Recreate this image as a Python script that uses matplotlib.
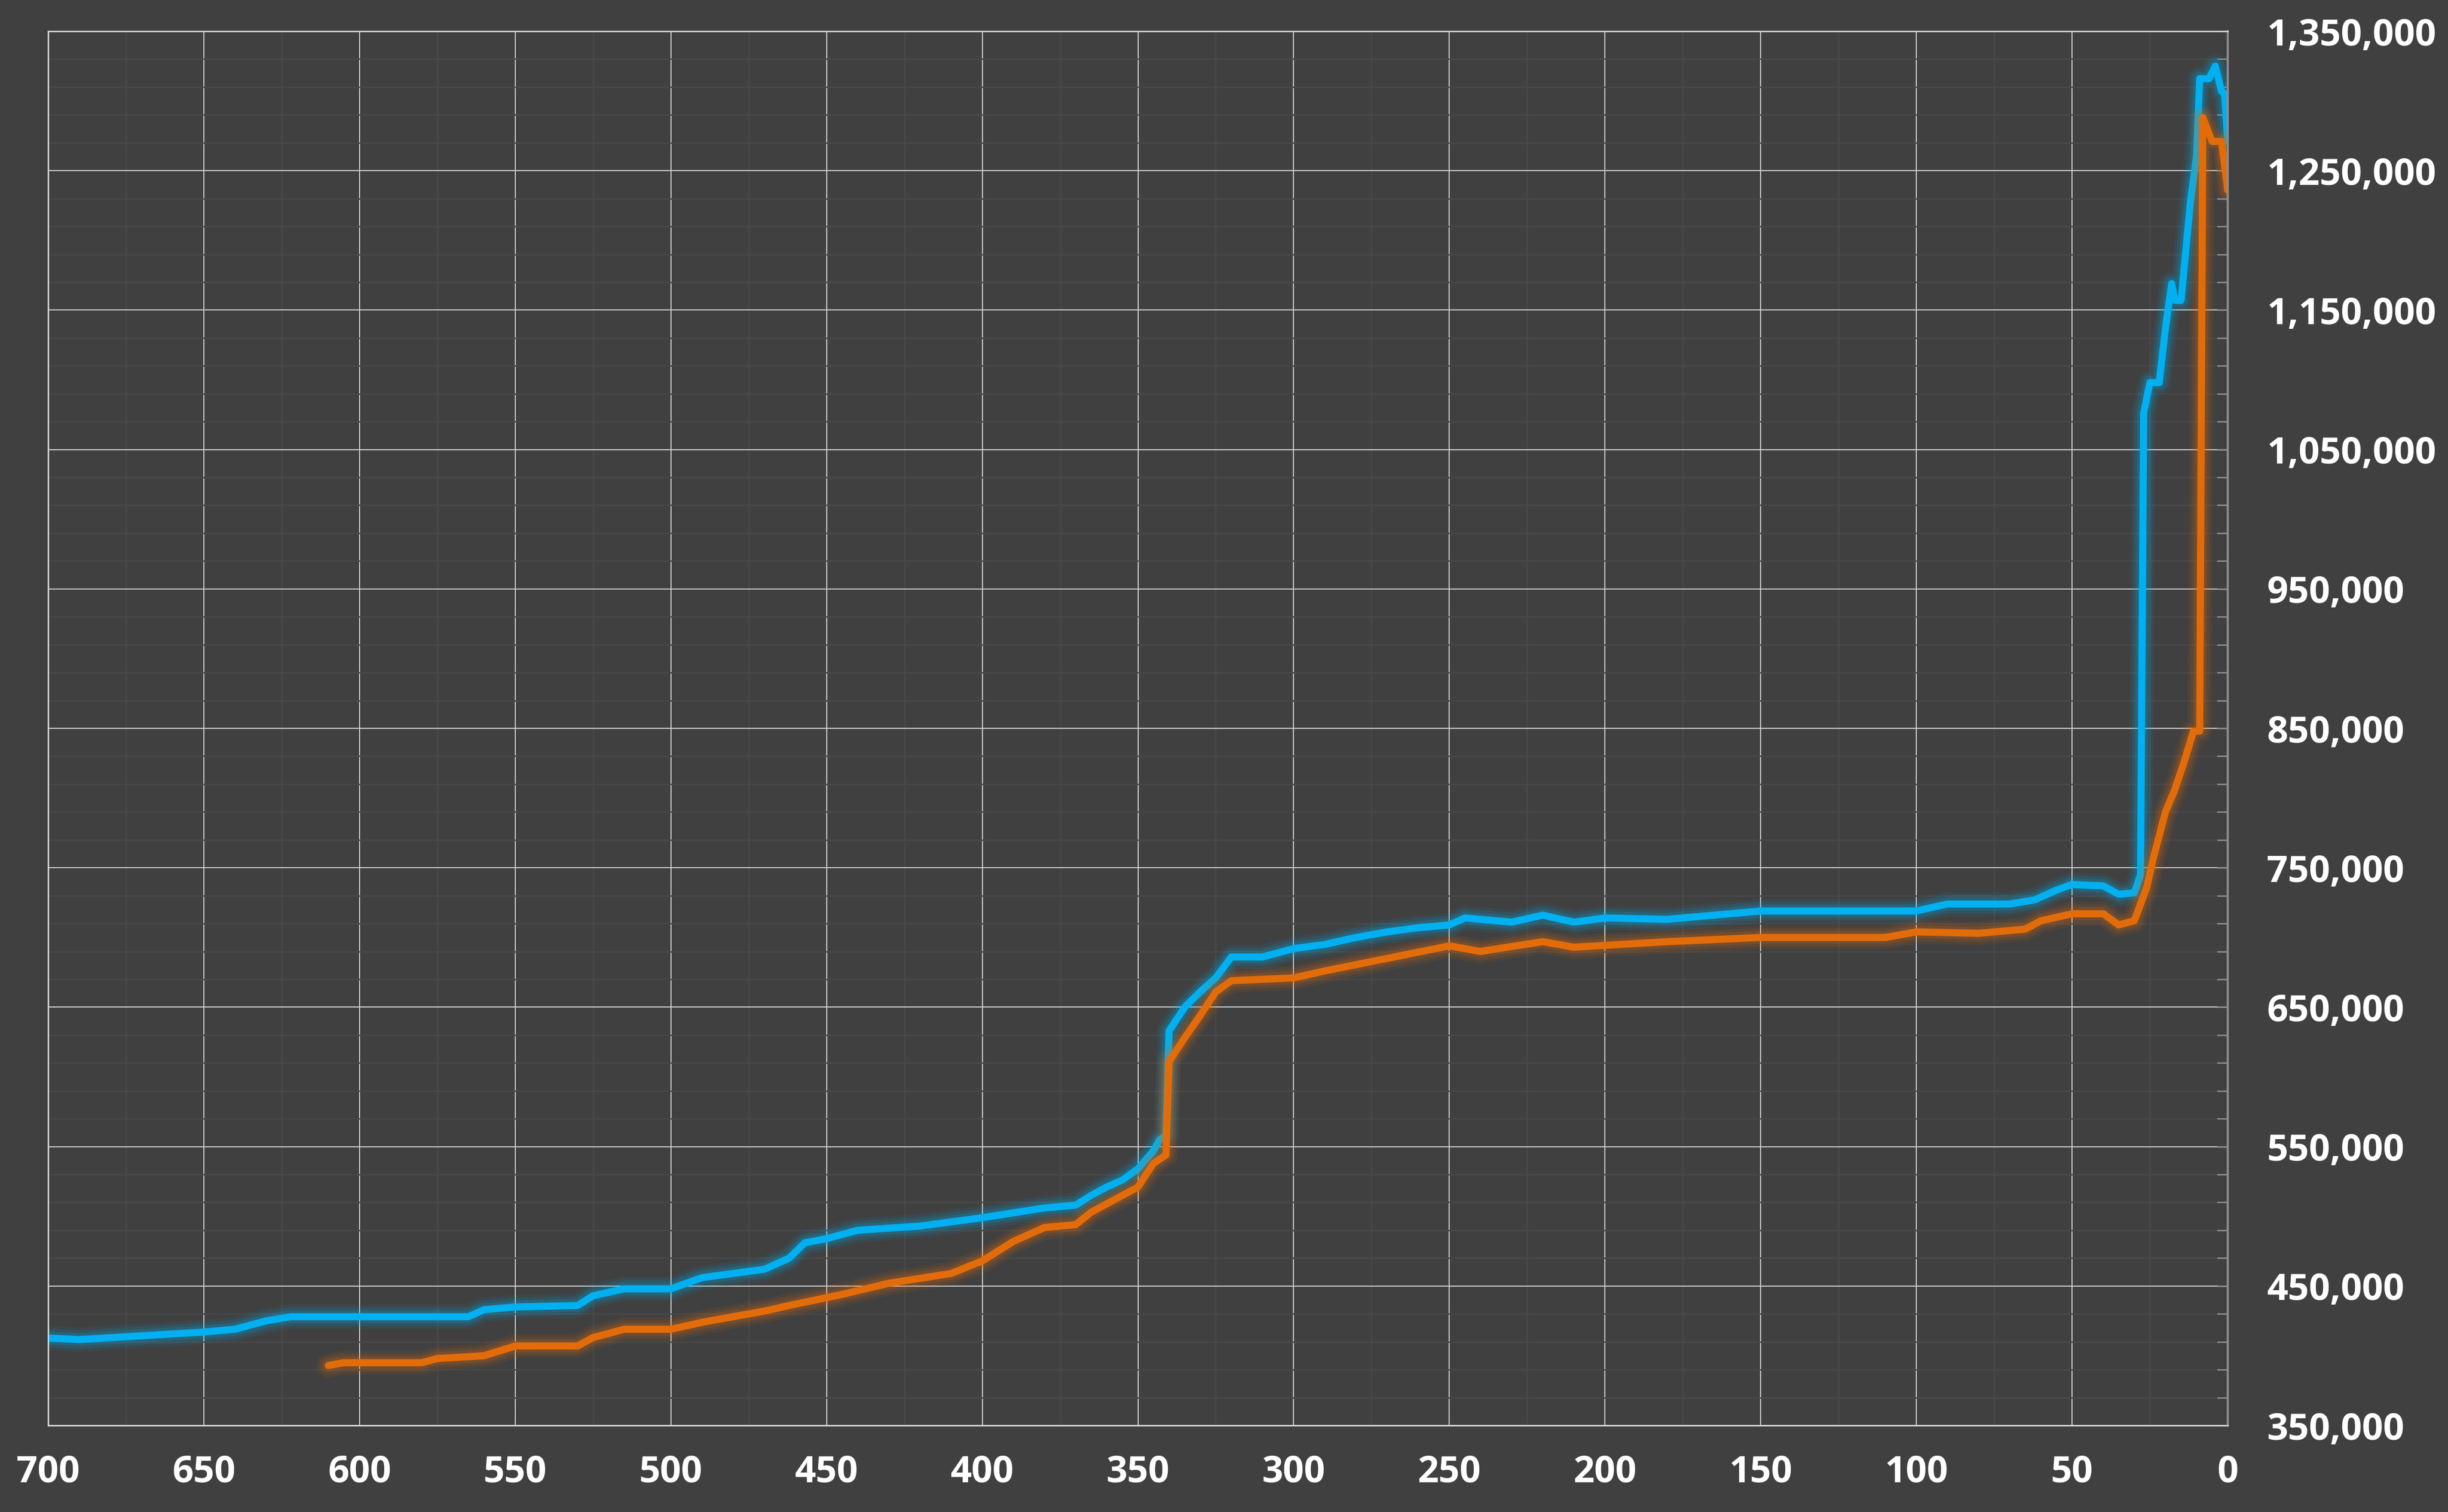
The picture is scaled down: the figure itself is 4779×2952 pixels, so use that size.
import matplotlib
matplotlib.use("Agg")
import matplotlib.pyplot as plt
from matplotlib.ticker import MultipleLocator, FuncFormatter

# values (x = units back, y = value)
blue_x = [700, 690, 650, 640, 630, 622, 600, 565, 560, 550, 530, 525, 515, 500, 490, 480, 470,
          462, 457, 450, 440, 420, 400, 380, 370, 365, 360, 355, 350, 345, 343, 341, 340, 335,
          330, 325, 320, 310, 300, 290, 280, 270, 260, 250, 245, 230, 220, 210, 200, 180, 160,
          150, 100, 90, 70, 62, 55, 50, 40, 35, 30, 28, 27, 25, 22, 20, 18, 17, 15, 12, 10, 9,
          6, 4, 2, 1, 0]
blue_y = [412700, 411600, 417000, 419000, 425000, 428000, 428000, 428000, 433000, 435000, 436000,
          443000, 448000, 448000, 456000, 459000, 462000, 470000, 481000, 484000, 490000, 493000,
          499000, 506000, 508000, 515000, 521000, 526000, 534000, 547000, 555000, 558000, 633000,
          650000, 661000, 671000, 686000, 686000, 692000, 695000, 700000, 704000, 707000, 709000,
          714000, 711000, 716000, 711000, 714000, 713000, 717000, 719000, 719000, 724000, 724000,
          727000, 734000, 738000, 737000, 731000, 732000, 745000, 1076000, 1098000, 1098000,
          1137000, 1169000, 1157000, 1157000, 1227000, 1261000, 1316000, 1316000, 1325000,
          1307000, 1305000, 1271000]

orange_x = [610, 605, 580, 575, 560, 550, 530, 525, 515, 500, 490, 470, 460, 445, 430, 410, 400,
            390, 380, 370, 365, 355, 350, 345, 341, 340, 335, 330, 325, 320, 300, 290, 270, 250,
            240, 220, 210, 180, 150, 110, 100, 80, 65, 60, 50, 40, 35, 30, 26, 24, 20, 17, 14,
            11, 9, 8, 5, 2, 0]
orange_y = [393000, 395000, 395000, 398000, 400000, 407000, 407000, 413000, 419000, 419000,
            424000, 432000, 437000, 444000, 452000, 459000, 468000, 482000, 492000, 494000,
            503000, 515000, 521000, 538000, 544000, 611000, 628000, 644000, 661000, 669000,
            671000, 676000, 685000, 694000, 690000, 697000, 693000, 697000, 700000, 700000,
            704000, 703000, 706000, 712000, 717000, 717000, 709000, 712000, 736000, 756000,
            790000, 806000, 826000, 848000, 848000, 1288000, 1271000, 1271000, 1236000]

bg = "#404040"
fig = plt.figure(figsize=(47.79, 29.52), dpi=100, facecolor=bg)
ax = fig.add_axes([94 / 4779, 1 - 2783 / 2952, (4349 - 94) / 4779, (2783 - 61) / 2952])
ax.set_facecolor(bg)

for xs, ys, c in [(blue_x, blue_y, "#00b0f0"), (orange_x, orange_y, "#e36c0a")]:
    # soft glow under each line
    for lw, a in [(34, 0.08), (26, 0.12), (18, 0.18)]:
        ax.plot(xs, ys, color=c, lw=lw, alpha=a, solid_capstyle="round", solid_joinstyle="round")
    ax.plot(xs, ys, color=c, lw=10, solid_capstyle="round", solid_joinstyle="round")

ax.set_xlim(700, 0)
ax.set_ylim(350000, 1350000)
ax.xaxis.set_major_locator(MultipleLocator(50))
ax.xaxis.set_minor_locator(MultipleLocator(25))
ax.set_yticks(range(350000, 1350001, 100000))
ax.set_yticks(range(350000, 1350001, 20000), minor=True)
ax.yaxis.set_major_formatter(FuncFormatter(lambda v, p: f"{int(v):,}"))

ax.grid(which="major", color="#cfcfcf", lw=1.5)
ax.grid(which="minor", color="#484848", lw=2)
ax.set_axisbelow(True)

ax.yaxis.tick_right()
for s in ["top", "left", "bottom"]:
    ax.spines[s].set_color("#d9d9d9")
    ax.spines[s].set_linewidth(2)
ax.spines["right"].set_color("#8c8c8c")
ax.spines["right"].set_linewidth(3)

ax.tick_params(axis="x", which="both", length=0, pad=40, labelsize=52, labelcolor="white")
ax.tick_params(axis="y", which="both", direction="in", color="#8c8c8c", width=2,
               length=15, pad=55, labelsize=52, labelcolor="white")
for lab in ax.get_xticklabels() + ax.get_yticklabels():
    lab.set_family(["Open Sans", "DejaVu Sans"])
    lab.set_fontweight("bold")

fig.savefig("out.png", facecolor=bg)
